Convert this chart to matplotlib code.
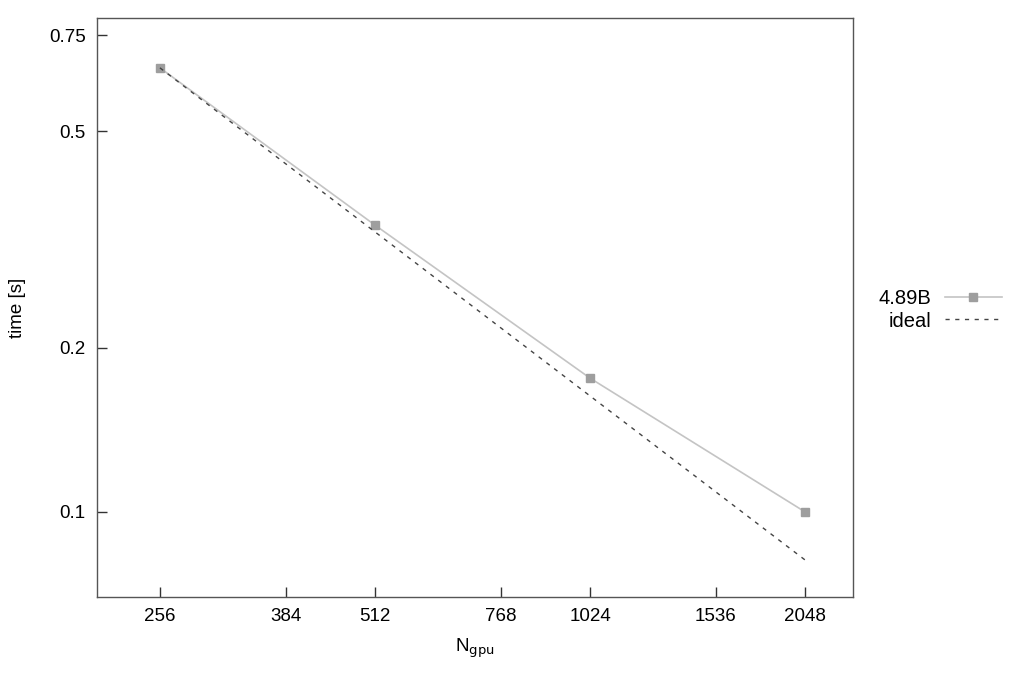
import matplotlib.pyplot as plt
from matplotlib.ticker import FixedLocator, FixedFormatter, NullLocator

ngpu = [256, 512, 1024, 2048]
time_s = [0.653, 0.336, 0.176, 0.100]
ideal = [time_s[0] * ngpu[0] / n for n in ngpu]

xticks = [256, 384, 512, 768, 1024, 1536, 2048]
yticks = [0.1, 0.2, 0.5, 0.75]

plt.rcParams['font.family'] = ['Liberation Sans', 'DejaVu Sans']

fig = plt.figure(figsize=(10.24, 6.82), dpi=100)
ax = fig.add_axes([0.0947, 0.1246, 0.7383, 0.849])

ax.plot(ngpu, time_s, '-', color='#c4c4c4', lw=1.2, marker='s', ms=6,
        mfc='#9e9e9e', mec='#9e9e9e', label='4.89B')
ax.plot(ngpu, ideal, '--', color='#444444', lw=1.0, dashes=(3, 4), label='ideal')

ax.set_xscale('log', base=2)
ax.set_yscale('log')
ax.set_xlim(209, 2390)
ax.set_ylim(0.0698, 0.806)

ax.xaxis.set_major_locator(FixedLocator(xticks))
ax.xaxis.set_major_formatter(FixedFormatter([str(t) for t in xticks]))
ax.xaxis.set_minor_locator(NullLocator())
ax.yaxis.set_major_locator(FixedLocator(yticks))
ax.yaxis.set_major_formatter(FixedFormatter([str(t) for t in yticks]))
ax.yaxis.set_minor_locator(NullLocator())

ax.tick_params(direction='in', length=7, width=1, labelsize=13.5, pad=8, color='#333333')
for s in ax.spines.values():
    s.set_color('#555555')
    s.set_linewidth(1)

ax.set_xlabel(r'N$_{\mathrm{gpu}}$', fontsize=13.5, labelpad=8)
ax.set_ylabel('time [s]', fontsize=13.5, labelpad=17)

ax.legend(loc='center right', bbox_to_anchor=(1012 / 1024, 1 - 310 / 682),
          bbox_transform=fig.transFigure, frameon=False, borderpad=0,
          markerfirst=False, fontsize=14.5, handlelength=2.85,
          handletextpad=0.65, labelspacing=0.15)

fig.savefig('out.png', dpi=100)
